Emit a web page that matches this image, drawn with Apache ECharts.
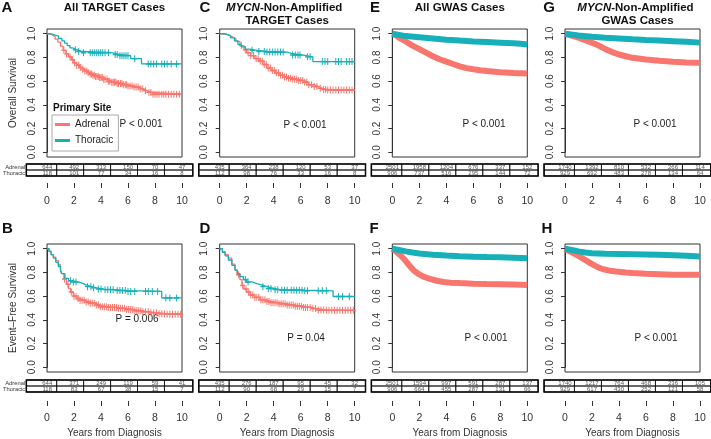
<!DOCTYPE html>
<html><head><meta charset="utf-8">
<script src="https://cdn.jsdelivr.net/npm/echarts@6/dist/echarts.min.js"></script>
<style>html,body{margin:0;padding:0;background:#fff}#c{width:711px;height:439px}</style>
</head><body><div id="c"></div>
<script>
// ---------- DATA ----------
const riskTimes = [0, 2, 4, 6, 8, 10];
const risk_A_adr = [644, 492, 313, 150, 70, 47];
const risk_A_thor = [118, 101, 77, 34, 16, 8];
const risk_C_adr = [435, 364, 238, 120, 53, 37];
const risk_C_thor = [112, 98, 76, 33, 16, 8];
const risk_E_adr = [2501, 1958, 1204, 676, 337, 152];
const risk_E_thor = [906, 737, 516, 295, 144, 72];
const risk_G_adr = [1740, 1392, 810, 532, 266, 114];
const risk_G_thor = [929, 692, 483, 278, 134, 64];
const risk_B_adr = [644, 371, 249, 119, 59, 41];
const risk_B_thor = [118, 83, 67, 38, 15, 7];
const risk_D_adr = [435, 276, 187, 95, 45, 32];
const risk_D_thor = [112, 90, 68, 29, 15, 7];
const risk_F_adr = [2501, 1594, 997, 591, 287, 137];
const risk_F_thor = [906, 664, 455, 287, 131, 66];
const risk_H_adr = [1740, 1217, 764, 468, 236, 105];
const risk_H_thor = [929, 617, 430, 252, 121, 58];

// Overall survival, TARGET all
const A_adr = [[0,1],[0.2,0.99],[0.4,0.975],[0.6,0.955],[0.8,0.93],[1.0,0.895],[1.2,0.86],[1.4,0.83],[1.6,0.805],[1.8,0.78],[2.0,0.755],[2.2,0.735],[2.4,0.715],[2.6,0.70],[2.8,0.685],[3.0,0.67],[3.2,0.66],[3.4,0.65],[3.6,0.64],[3.9,0.63],[4.2,0.615],[4.5,0.60],[4.8,0.59],[5.2,0.58],[5.6,0.57],[6.0,0.56],[6.4,0.55],[6.8,0.535],[7.1,0.52],[7.4,0.505],[7.8,0.49],[10,0.49]];
const A_thor = [[0,1],[0.25,0.99],[0.55,0.98],[0.85,0.96],[1.1,0.94],[1.3,0.92],[1.5,0.90],[1.7,0.88],[1.9,0.865],[2.2,0.85],[2.6,0.84],[4.8,0.825],[5.3,0.815],[6.2,0.79],[7.0,0.745],[10,0.745]];
const A_adr_cens = [1.25,1.45,1.7,1.9,2.05,2.2,2.35,2.5,2.65,2.8,2.95,3.05,3.2,3.3,3.4,3.5,3.6,3.7,3.8,3.9,4.0,4.1,4.2,4.3,4.45,4.55,4.65,4.8,4.9,5.0,5.1,5.2,5.3,5.45,5.55,5.65,5.8,5.9,6.0,6.15,6.3,6.45,6.6,6.75,6.9,7.05,7.3,7.55,7.7,7.85,8.0,8.15,8.3,8.5,8.65,8.8,9.0,9.2,9.4,9.6,9.8];
const A_thor_cens = [2.1,2.35,2.7,3.2,3.35,3.5,3.65,3.8,3.95,4.1,4.3,4.55,5.05,5.2,5.4,5.55,5.7,5.85,6.0,6.5,7.5,7.7,7.9,8.1,8.5,8.7,8.9,9.2,9.6];

// Overall survival, TARGET MYCN non-amplified
const C_adr = [[0,1],[0.3,0.99],[0.6,0.975],[0.9,0.96],[1.2,0.935],[1.5,0.90],[1.8,0.865],[2.0,0.84],[2.3,0.815],[2.6,0.79],[2.9,0.77],[3.2,0.74],[3.5,0.71],[3.8,0.69],[4.1,0.67],[4.4,0.65],[4.7,0.635],[5.0,0.625],[5.4,0.615],[5.8,0.605],[6.2,0.59],[6.6,0.57],[7.0,0.555],[7.3,0.54],[7.6,0.53],[7.9,0.525],[10,0.525]];
const C_thor = [[0,1],[0.4,0.985],[0.8,0.965],[1.1,0.94],[1.35,0.91],[1.6,0.89],[1.9,0.87],[2.2,0.86],[2.8,0.85],[3.5,0.845],[5.0,0.835],[5.3,0.82],[6.2,0.805],[6.9,0.765],[10,0.765]];
const C_adr_cens = [1.6,1.9,2.1,2.3,2.5,2.7,2.85,3.0,3.15,3.3,3.45,3.6,3.75,3.9,4.05,4.2,4.35,4.5,4.65,4.8,4.95,5.1,5.25,5.4,5.55,5.7,5.85,6.0,6.15,6.3,6.45,6.6,6.8,7.0,7.2,7.45,7.7,7.85,8.0,8.2,8.4,8.6,8.8,9.0,9.2,9.4,9.6,9.8];
const C_thor_cens = [2.4,2.9,3.3,3.5,3.7,3.9,4.1,4.3,4.5,4.7,5.4,5.6,5.8,5.95,6.5,6.7,7.6,7.8,8.0,8.6,8.8,9.0,9.4,9.6,9.8];

// Overall survival, GWAS all
const E_adr = [[0,1],[0.3,0.985],[0.6,0.96],[1.0,0.935],[1.5,0.90],[2.0,0.87],[2.5,0.84],[3.0,0.81],[3.5,0.785],[4.0,0.765],[4.5,0.745],[5.0,0.725],[5.5,0.71],[6.0,0.70],[6.5,0.692],[7.0,0.685],[8.0,0.675],[9.0,0.668],[10,0.665]];
const E_thor = [[0,1],[0.5,0.99],[1,0.98],[2,0.97],[3,0.96],[4,0.95],[5,0.942],[6,0.935],[7,0.93],[8,0.925],[9,0.92],[9.5,0.915],[10,0.91]];

// Overall survival, GWAS MYCN non-amplified
const G_adr = [[0,1],[0.5,0.985],[1.0,0.967],[1.5,0.945],[2.0,0.925],[2.5,0.90],[3.0,0.87],[3.5,0.845],[4.0,0.825],[4.5,0.81],[5.0,0.797],[6.0,0.782],[7.0,0.772],[8.0,0.764],[9.0,0.758],[10,0.755]];
const G_thor = [[0,1],[1,0.985],[2,0.975],[3,0.967],[4,0.96],[5,0.953],[6,0.947],[7,0.942],[8,0.937],[9,0.932],[10,0.925]];

// Event-free survival, TARGET all
const B_adr = [[0,1],[0.15,0.975],[0.3,0.95],[0.47,0.93],[0.65,0.90],[0.84,0.865],[1.0,0.82],[1.1,0.79],[1.25,0.745],[1.45,0.70],[1.6,0.665],[1.75,0.635],[1.95,0.60],[2.2,0.58],[2.45,0.565],[2.8,0.55],[3.2,0.54],[3.6,0.525],[3.9,0.51],[4.5,0.505],[5.2,0.497],[5.8,0.487],[6.4,0.477],[7.0,0.468],[7.6,0.46],[8.2,0.452],[8.8,0.448],[10,0.448]];
const B_thor = [[0,1],[0.15,0.98],[0.3,0.95],[0.47,0.92],[0.65,0.885],[0.84,0.85],[1.0,0.81],[1.1,0.79],[1.33,0.75],[1.6,0.73],[1.85,0.72],[2.3,0.71],[2.6,0.695],[2.9,0.68],[3.3,0.67],[3.7,0.66],[4.2,0.655],[5.1,0.647],[6.0,0.64],[8.5,0.585],[10,0.585]];
const B_adr_cens = [1.3,1.55,1.8,2.0,2.15,2.3,2.45,2.6,2.75,2.9,3.05,3.2,3.35,3.5,3.65,3.8,3.95,4.1,4.25,4.4,4.55,4.7,4.85,5.0,5.15,5.3,5.45,5.6,5.75,5.9,6.05,6.2,6.35,6.5,6.65,6.8,6.95,7.1,7.3,7.5,7.7,7.9,8.1,8.3,8.5,8.7,8.9,9.1,9.3,9.5,9.7,9.9];
const B_thor_cens = [1.75,1.95,2.15,3.0,3.25,3.45,3.8,4.0,4.3,4.5,4.7,4.9,5.2,5.4,5.6,5.8,6.0,6.2,6.5,7.3,7.5,7.8,8.2,8.8,9.1,9.6];

// Event-free survival, TARGET MYCN non-amplified
const D_adr = [[0,1],[0.2,0.975],[0.4,0.95],[0.64,0.92],[0.9,0.87],[1.13,0.82],[1.3,0.78],[1.5,0.74],[1.65,0.69],[1.8,0.66],[2.0,0.635],[2.25,0.61],[2.6,0.59],[3.0,0.57],[3.4,0.555],[3.8,0.545],[4.4,0.535],[5.0,0.525],[5.6,0.515],[6.2,0.505],[6.8,0.495],[7.2,0.483],[7.9,0.48],[10,0.48]];
const D_thor = [[0,1],[0.2,0.97],[0.4,0.94],[0.64,0.905],[0.9,0.86],[1.13,0.82],[1.3,0.79],[1.5,0.765],[1.75,0.74],[2.0,0.72],[2.4,0.705],[2.74,0.695],[3.1,0.68],[3.5,0.665],[4.0,0.655],[4.5,0.65],[6.2,0.645],[8.4,0.597],[10,0.597]];
const D_adr_cens = [1.4,1.7,1.95,2.15,2.3,2.45,2.6,2.75,2.9,3.05,3.2,3.35,3.5,3.65,3.8,3.95,4.1,4.25,4.4,4.55,4.7,4.85,5.0,5.15,5.3,5.45,5.6,5.75,5.9,6.05,6.2,6.35,6.5,6.7,6.9,7.1,7.3,7.5,7.7,7.9,8.1,8.3,8.5,8.7,8.9,9.1,9.3,9.5,9.7,9.9];
const D_thor_cens = [1.9,2.1,3.2,3.6,3.8,4.1,4.3,4.6,4.8,5.0,5.3,5.5,5.7,5.9,6.1,6.3,6.5,7.3,7.6,7.9,8.8,9.1,9.6];

// Event-free survival, GWAS all
const F_adr = [[0,1],[0.3,0.975],[0.6,0.945],[0.94,0.905],[1.25,0.86],[1.56,0.82],[1.9,0.79],[2.3,0.765],[2.8,0.745],[3.3,0.73],[3.8,0.72],[4.3,0.714],[5.0,0.71],[6.0,0.705],[7.0,0.702],[8.0,0.70],[9.0,0.698],[10,0.695]];
const F_thor = [[0,1],[0.5,0.99],[1.0,0.978],[1.5,0.968],[2.0,0.96],[3.0,0.95],[4.0,0.943],[5.0,0.937],[6.0,0.933],[7.0,0.93],[8.0,0.928],[9.0,0.924],[10,0.92]];

// Event-free survival, GWAS MYCN non-amplified
const H_adr = [[0,1],[0.5,0.97],[1.0,0.94],[1.5,0.905],[2.0,0.87],[2.5,0.84],[2.84,0.827],[3.3,0.815],[3.8,0.808],[4.5,0.80],[5.0,0.796],[6.0,0.79],[7.0,0.785],[8.0,0.78],[9.0,0.78],[10,0.78]];
const H_thor = [[0,1],[0.5,0.99],[1.0,0.978],[1.5,0.968],[2.0,0.962],[3.0,0.958],[4.0,0.956],[5.0,0.954],[6.0,0.952],[7.0,0.95],[8.0,0.945],[9.0,0.94],[10,0.935]];

const pTexts = ['P < 0.001','P < 0.001','P < 0.001','P < 0.001','P = 0.006','P = 0.04','P < 0.001','P < 0.001'];
const panelLetters = ['A','C','E','G','B','D','F','H'];
const rowNames = ['Thoracic', 'Adrenal'];
const yTitles = ['Overall Survival', 'Event\u2013Free Survival'];
const xTitle = 'Years from Diagnosis';
const legendTitle = 'Primary Site';

// ---------- LAYOUT / STYLE ----------
const FONT = '"Liberation Sans", Arial, Helvetica, sans-serif';
const COL_ADR = '#F8766D', COL_THO = '#17B0B8';
const TXT = '#333';
const colLeft = [47, 219.7, 392.3, 565];
const BOX_W = 135, BOX_H = 128;
const rowBoxTop = [29, 244];
const rowTableTop = [164, 380];
const TABLE_H = 12;
const rowTickY = [183, 401];
const rowLabelMargin = [13, 12];
const pPos = [[141,124],[305,125],[484,124],[655,124],[137,319],[306,338],[486,338],[656,338]];
const letterPos = [[7,8],[205,8],[375,8],[549,8],[7.5,229],[205,229],[374,229],[547,229]];
const PLUS = 'path://M4,0H6V4H10V6H6V10H4V6H0V4H4Z';

const panels = [
  {col:0,row:0, adr:A_adr, thor:A_thor, adrC:A_adr_cens, thorC:A_thor_cens, rAdr:risk_A_adr, rThor:risk_A_thor, gwas:false},
  {col:1,row:0, adr:C_adr, thor:C_thor, adrC:C_adr_cens, thorC:C_thor_cens, rAdr:risk_C_adr, rThor:risk_C_thor, gwas:false},
  {col:2,row:0, adr:E_adr, thor:E_thor, rAdr:risk_E_adr, rThor:risk_E_thor, gwas:true},
  {col:3,row:0, adr:G_adr, thor:G_thor, rAdr:risk_G_adr, rThor:risk_G_thor, gwas:true},
  {col:0,row:1, adr:B_adr, thor:B_thor, adrC:B_adr_cens, thorC:B_thor_cens, rAdr:risk_B_adr, rThor:risk_B_thor, gwas:false},
  {col:1,row:1, adr:D_adr, thor:D_thor, adrC:D_adr_cens, thorC:D_thor_cens, rAdr:risk_D_adr, rThor:risk_D_thor, gwas:false},
  {col:2,row:1, adr:F_adr, thor:F_thor, rAdr:risk_F_adr, rThor:risk_F_thor, gwas:true},
  {col:3,row:1, adr:H_adr, thor:H_thor, rAdr:risk_H_adr, rThor:risk_H_thor, gwas:true}
];

function stepAt(curve, t) {
  let s = curve[0][1];
  for (const [ti, si] of curve) { if (ti <= t) s = si; else break; }
  return s;
}

const grid = [], xAxis = [], yAxis = [], series = [], graphic = [];

panels.forEach((P, i) => {
  const L = colLeft[P.col], bt = rowBoxTop[P.row];
  const unit = BOX_H / 1.08;
  const dTop = bt + 0.04 * unit, dH = unit;

  // box
  grid.push({left: L, top: bt, width: BOX_W, height: BOX_H, show: true, borderColor: '#333', borderWidth: 1, backgroundColor: 'transparent'});
  let g = grid.length - 1;
  xAxis.push({gridIndex: g, type: 'value', show: false, min: 0, max: 1});
  yAxis.push({gridIndex: g, type: 'value', show: false, min: 0, max: 1});

  // data grid
  grid.push({left: L, top: dTop, width: BOX_W, height: dH});
  const gD = grid.length - 1;
  xAxis.push({gridIndex: gD, type: 'value', min: 0, max: 10, interval: 2, position: 'bottom',
    offset: rowTickY[P.row] - (dTop + dH),
    axisLine: {show: true, onZero: false, lineStyle: {color: 'rgba(0,0,0,0)'}},
    axisTick: {show: true, inside: false, length: 5, lineStyle: {color: TXT, width: 1}},
    axisLabel: {fontSize: 10.5, color: TXT, margin: rowLabelMargin[P.row], fontFamily: FONT},
    splitLine: {show: false}});
  yAxis.push({gridIndex: gD, type: 'value', min: 0, max: 1, interval: 0.2, offset: 3,
    axisLine: {show: true, lineStyle: {color: TXT}},
    axisTick: {show: true, length: 4, lineStyle: {color: TXT}},
    axisLabel: {rotate: 90, margin: 7, fontSize: 10, color: TXT, fontFamily: FONT, formatter: v => v.toFixed(1)},
    splitLine: {show: false},
    name: P.col === 0 ? yTitles[P.row] : '', nameLocation: 'middle', nameGap: 26,
    nameTextStyle: {fontSize: 10, color: TXT, fontFamily: FONT}});

  // table grid
  grid.push({left: L, top: rowTableTop[P.row], width: BOX_W, height: TABLE_H});
  const gT = grid.length - 1;
  xAxis.push({gridIndex: gT, type: 'value', min: 0, max: 10, show: false});
  yAxis.push({gridIndex: gT, type: 'category', data: rowNames, show: true,
    axisLine: {show: false}, axisTick: {show: false}, splitLine: {show: false},
    axisLabel: {show: P.col === 0, interval: 0, fontSize: 5.8, margin: 22, color: TXT, fontFamily: FONT}});

  // curves
  const lw = P.gwas ? 6 : 1.3;
  series.push({type: 'line', name: 'Adrenal', xAxisIndex: gD, yAxisIndex: gD, data: P.adr,
    step: P.gwas ? false : 'end', symbol: 'none', color: COL_ADR,
    lineStyle: {color: COL_ADR, width: lw}, itemStyle: {color: COL_ADR}, clip: false, z: 2, silent: true});
  series.push({type: 'line', name: 'Thoracic', xAxisIndex: gD, yAxisIndex: gD, data: P.thor,
    step: P.gwas ? false : 'end', symbol: 'none', color: COL_THO,
    lineStyle: {color: COL_THO, width: lw}, itemStyle: {color: COL_THO}, clip: false, z: 3, silent: true});
  if (!P.gwas) {
    series.push({type: 'scatter', name: 'Adrenal', xAxisIndex: gD, yAxisIndex: gD,
      data: P.adrC.map(t => [t, stepAt(P.adr, t)]), symbol: PLUS, symbolSize: [5, 7],
      itemStyle: {color: COL_ADR, opacity: 1}, z: 2, silent: true});
    series.push({type: 'scatter', name: 'Thoracic', xAxisIndex: gD, yAxisIndex: gD,
      data: P.thorC.map(t => [t, stepAt(P.thor, t)]), symbol: PLUS, symbolSize: [5, 7],
      itemStyle: {color: COL_THO, opacity: 1}, z: 3, silent: true});
  }

  // risk table
  const tdata = [];
  riskTimes.forEach((t, j) => { tdata.push([t, 1, P.rAdr[j], j]); tdata.push([t, 0, P.rThor[j], j]); });
  series.push({type: 'custom', xAxisIndex: gT, yAxisIndex: gT, data: tdata, clip: false, silent: true,
    renderItem: (params, api) => {
      const t = api.value(0), row = api.value(1), cnt = api.value(2), j = api.value(3);
      const eL = j === 0 ? t - 1.55 : t - 1.3;
      const eR = j === riskTimes.length - 1 ? t + 0.8 : t + 0.7;
      const c = api.coord([t, row]);
      const l = api.coord([eL, row])[0], r = api.coord([eR, row])[0];
      const bh = api.size([0, 1])[1];
      const kids = [
        {type: 'rect', shape: {x: l, y: c[1] - bh / 2, width: r - l, height: bh},
          style: {fill: 'none', stroke: '#111', lineWidth: 0.8}},
        {type: 'text', style: {text: String(cnt), x: c[0], y: c[1] + 0.3, align: 'center', verticalAlign: 'middle',
          fontSize: 6, fontFamily: FONT, fill: '#555'}}
      ];
      if (j === 0 && row === 0) {
        const l0 = api.coord([-1.55, 0])[0], r0 = api.coord([10.8, 0])[0];
        kids.push({type: 'rect', shape: {x: l0, y: c[1] - bh * 1.5, width: r0 - l0, height: bh * 2},
          style: {fill: 'none', stroke: '#000', lineWidth: 1.5}});
      }
      return {type: 'group', children: kids};
    }});

  // texts
  graphic.push({type: 'text', x: letterPos[i][0], y: letterPos[i][1],
    style: {text: panelLetters[i], font: 'bold 15px ' + FONT, fill: '#111', align: 'center', verticalAlign: 'middle'}});
  graphic.push({type: 'text', x: pPos[i][0], y: pPos[i][1],
    style: {text: pTexts[i], font: '10px ' + FONT, fill: '#222', align: 'center', verticalAlign: 'middle'}});
  if (P.row === 1) {
    graphic.push({type: 'text', x: L + BOX_W / 2, y: 433,
      style: {text: xTitle, font: '10px ' + FONT, fill: TXT, align: 'center', verticalAlign: 'middle'}});
  }
});

// panel titles
const titleFont = 'bold 11.5px ' + FONT;
graphic.push({type: 'text', x: colLeft[0] + BOX_W / 2, y: 8, style: {text: 'All TARGET Cases', font: titleFont, fill: '#111', align: 'center', verticalAlign: 'middle'}});
graphic.push({type: 'text', x: colLeft[2] + BOX_W / 2, y: 8, style: {text: 'All GWAS Cases', font: titleFont, fill: '#111', align: 'center', verticalAlign: 'middle'}});
[[colLeft[1] + BOX_W / 2 - 3, 'TARGET Cases', colLeft[1] + BOX_W / 2], [colLeft[3] + BOX_W / 2 + 3, 'GWAS Cases', colLeft[3] + BOX_W / 2 + 5]].forEach(([cx, l2, cx2]) => {
  graphic.push({type: 'text', x: cx, y: 8, style: {text: '{i|MYCN}{b|-Non-Amplified}', align: 'center', verticalAlign: 'middle', fill: '#111',
    rich: {i: {fontStyle: 'italic', fontWeight: 'bold', fontSize: 11.5, fontFamily: FONT, fill: '#111'},
           b: {fontWeight: 'bold', fontSize: 11.5, fontFamily: FONT, fill: '#111'}}}});
  graphic.push({type: 'text', x: cx2, y: 21, style: {text: l2, font: titleFont, fill: '#111', align: 'center', verticalAlign: 'middle'}});
});
graphic.push({type: 'text', x: 53, y: 108, style: {text: legendTitle, font: 'bold 10px ' + FONT, fill: '#111', align: 'left', verticalAlign: 'middle'}});

const option = {
  animation: false,
  textStyle: {fontFamily: FONT},
  grid, xAxis, yAxis, series, graphic,
  legend: {data: ['Adrenal', 'Thoracic'], orient: 'vertical', left: 52, top: 115, icon: 'rect',
    itemWidth: 15, itemHeight: 3, itemGap: 3, padding: [3, 5, 4, 3], borderColor: '#aaa', borderWidth: 1,
    selectedMode: false, backgroundColor: '#fff',
    textStyle: {fontSize: 10, color: '#222', lineHeight: 13, fontFamily: FONT}}
};

const chart = echarts.init(document.getElementById('c'), null, {renderer: 'canvas'});
chart.setOption(option);
</script></body></html>
